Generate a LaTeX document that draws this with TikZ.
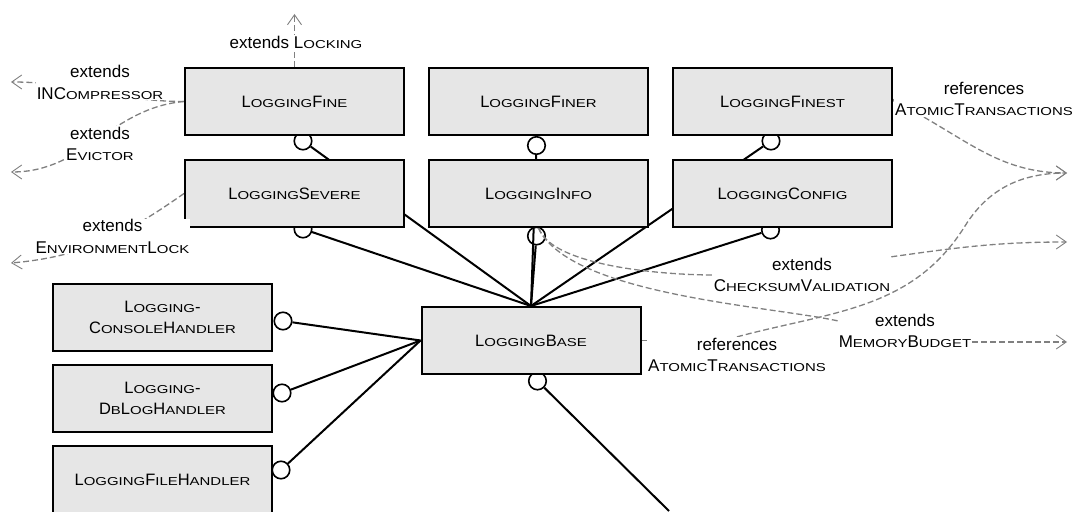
\documentclass[tikz,border=0pt]{standalone}
\usepackage{fontspec}
\setmainfont{Liberation Sans}
\newfontfamily\scfont[FakeStretch=1.3]{Liberation Sans}
\newcommand\smc[1]{{\scfont\fontsize{11.5}{14}\selectfont #1}}
\usepackage{tikz}
\usetikzlibrary{positioning}
\usetikzlibrary{arrows.meta}
\pgfdeclarelayer{linkbg}
\pgfsetlayers{linkbg,main}
\definecolor{boxgray}{HTML}{E6E6E6}
\definecolor{depgray}{HTML}{808080}
\tikzset{
	cls/.style={draw, line width=2pt, fill=boxgray, minimum width=219pt, minimum height=67pt, align=center, inner sep=0pt, font=\fontsize{16.5}{21}\selectfont},
	joint/.style={circle, draw, line width=1.6pt, fill=white, minimum size=17.5pt, inner sep=0pt},
	link/.style={line width=2pt},
	tick/.style={draw=depgray, line width=1.3pt, dash pattern=on 6pt off 3pt},
	dep/.style={tick, -{Straight Barb[length=10pt,width=14pt,line width=0.9pt]}},
	note/.style={fill=white, align=center, inner sep=1pt, font=\fontsize{17}{21.5}\selectfont},
}

\begin{document}
\begin{tikzpicture}[x=1pt,y=1pt]
	\useasboundingbox (0,0) rectangle (1075,511);
	% Rows 1 and 2
	\node [cls] at (294.5,409.5) (fine) {L\smc{OGGING}F\smc{INE}};
	\node [cls, right=23pt of fine] (finer) {L\smc{OGGING}F\smc{INER}};
	\node [cls, right=23pt of finer] (finest) {L\smc{OGGING}F\smc{INEST}};
	\node [cls, below=23pt of fine] (severe) {L\smc{OGGING}S\smc{EVERE}};
	\node [cls, below=23pt of finer] (info) {L\smc{OGGING}I\smc{NFO}};
	\node [cls, below=23pt of finest] (config) {L\smc{OGGING}C\smc{ONFIG}};
	
	% Base and handlers
	\node [cls] at (531,170.5) (base) {L\smc{OGGING}B\smc{ASE}};
	\node [cls] at (162.5,193.5) (console) {L\smc{OGGING}-\\C\smc{ONSOLE}H\smc{ANDLER}};
	\node [cls, below=12pt of console] (dblog) {L\smc{OGGING}-\\D\smc{B}L\smc{OG}H\smc{ANDLER}};
	\node [cls, below=12pt of dblog] (filehandler) {L\smc{OGGING}F\smc{ILE}H\smc{ANDLER}};
	
	% Labels
	\node [note] at (296,469) (lock) {extends L\smc{OCKING}};
	\node [note] at (100,428.5) (incomp) {extends\\INC\smc{OMPRESSOR}};
	\node [note] at (100,367) (evict) {extends\\E\smc{VICTOR}};
	\node [note] at (112.5,274.5) (envlock) {extends\\E\smc{NVIRONMENT}L\smc{OCK}};
	\node [note] at (984,412) (refA) {references\\A\smc{TOMIC}T\smc{RANSACTIONS}};
	\node [note] at (737,156) (refB) {references\\A\smc{TOMIC}T\smc{RANSACTIONS}};
	\node [note] at (802,236) (chk) {extends\\C\smc{HECKSUM}V\smc{ALIDATION}};
	\node [note] at (905,180) (mem) {extends\\M\smc{EMORY}B\smc{UDGET}};
	
	% Free ends
	\coordinate (lockT) at (294.5,497);
	\coordinate (incT) at (11,429);
	\coordinate (evicT) at (11,339);
	\coordinate (envT) at (11,248);
	\coordinate (refAT) at (1067,338);
	\coordinate (refMid) at (965,285);
	\coordinate (chkT) at (1067,269);
	\coordinate (memT) at (1067,169);
	\coordinate (baseEnd) at (669,0);
	
	\begin{pgfonlayer}{linkbg}
		% Joints
		\node [joint] at (303,370) (fineC) {};
		\node [joint] at (536.5,365.5) (finerC) {};
		\node [joint] at (771,370) (finestC) {};
		\node [joint] at (303,282) (severeC) {};
		\node [joint] at (536.5,275) (infoC) {};
		\node [joint] at (770.5,281) (configC) {};
		\node [joint] at (537.5,130) (baseC) {};
		\node [joint] at (283,190) (consoleC) {};
		\node [joint] at (282,118) (dblogC) {};
		\node [joint] at (281,41) (fileC) {};
		
		% Connections
		\draw [link] (fineC) -- (base.north);
		\draw [link] (finerC) -- (base.north);
		\draw [link] (finestC) -- (base.north);
		\draw [link] (severeC) -- (base.north);
		\draw [link] (infoC) -- (base.north);
		\draw [link] (configC) -- (base.north);
		\draw [link] (consoleC) -- (base.west);
		\draw [link] (dblogC) -- (base.west);
		\draw [link] (fileC) -- (base.west);
		\draw [link] (baseC) -- (baseEnd);
		
		% Dependencies
		\draw [dep] (fine.north) -- (lockT);
		\draw [dep] (fine.west) to[out=180,in=0] (incT);
		\draw [dep] (fine.west) to[out=185,in=0] (evicT);
		\draw [dep] (severe.west) to[out=215,in=5] (envT);
		\draw [tick] (finest.east) -- (refA.west);
		\draw [dep] ([xshift=30pt]refA.south west) to[out=-30,in=180] (refAT);
		\draw [tick] (base.east) -- (refB.west |- base.east);
		\draw [dep] (refB.north) to[out=15,in=238] (refMid) to[out=58,in=180] (refAT);
		\draw [tick] (info.south) to[out=-70,in=180,looseness=0.6] (chk.west);
		\draw [dep] (chk.north east) to[out=8,in=180] (chkT);
		\draw [tick] (info.south) to[out=-65,in=168,looseness=0.6] ([yshift=-8pt]mem.north west);
		\draw [dep] (mem.east |- memT) -- (memT);
	\end{pgfonlayer}
\end{tikzpicture}
\end{document}
